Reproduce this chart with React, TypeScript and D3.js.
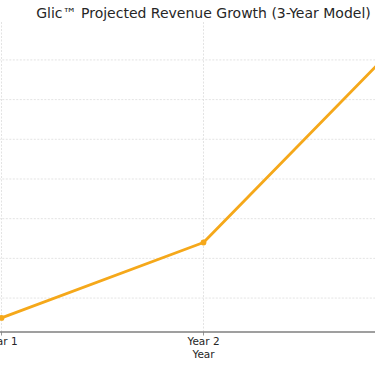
import React from "react";
import * as d3 from "d3";

const years: string[] = ["Year 1", "Year 2", "Year 3"];
const revenue: number[] = [1.25, 6.0, 19.0];
const yTicks: number[] = [2.5, 5, 7.5, 10, 12.5, 15, 17.5];
const title = "Glic™ Projected Revenue Growth (3-Year Model)";
const xLabel = "Year";

const W = 375;
const H = 366;
const plotLeft = -18.7;
const plotRight = 425.7;
const plotTop = 22;
const plotBottom = 332;
const FONT = "DejaVu Sans, sans-serif";

export default function App() {
  const idx = years.map((_, i) => i);
  const x = d3
    .scaleLinear()
    .domain([-0.1, years.length - 1 + 0.1])
    .range([plotLeft, plotRight]);
  const yMin = d3.min(revenue) as number;
  const yMax = d3.max(revenue) as number;
  const pad = (yMax - yMin) * 0.05;
  const y = d3
    .scaleLinear()
    .domain([yMin - pad, yMax + pad])
    .range([plotBottom, plotTop]);

  const line = d3
    .line<number>()
    .x((_, i) => x(i))
    .y((d) => y(d));

  return (
    <svg
      width={W}
      height={H}
      style={{ position: "absolute", left: 0, top: 0, background: "#fff" }}
    >
      {yTicks.map((t) => (
        <line
          key={"h" + t}
          x1={plotLeft}
          x2={plotRight}
          y1={y(t)}
          y2={y(t)}
          stroke="#dcdcdc"
          strokeWidth={0.8}
          strokeDasharray="2,1.5"
        />
      ))}
      {idx.map((i) => (
        <line
          key={"v" + i}
          x1={x(i)}
          x2={x(i)}
          y1={plotTop}
          y2={plotBottom}
          stroke="#dcdcdc"
          strokeWidth={0.8}
          strokeDasharray="2,1.5"
        />
      ))}
      <line
        x1={plotLeft}
        x2={plotRight}
        y1={plotBottom}
        y2={plotBottom}
        stroke="#7f7f7f"
        strokeWidth={1.5}
      />
      {idx.map((i) => (
        <g key={"t" + i}>
          <line
            x1={x(i)}
            x2={x(i)}
            y1={plotBottom}
            y2={plotBottom + 3.5}
            stroke="#7f7f7f"
            strokeWidth={0.8}
          />
          <text
            x={x(i)}
            y={plotBottom + 13.2}
            textAnchor="middle"
            fontFamily={FONT}
            fontSize={10.5}
            fill="#262626"
          >
            {years[i]}
          </text>
        </g>
      ))}
      <text
        x={(plotLeft + plotRight) / 2}
        y={plotBottom + 26}
        textAnchor="middle"
        fontFamily={FONT}
        fontSize={10.5}
        fill="#262626"
      >
        {xLabel}
      </text>
      <path
        d={line(revenue) || ""}
        fill="none"
        stroke="#f5a81a"
        strokeWidth={2.8}
        strokeLinejoin="round"
      />
      {revenue.map((v, i) => (
        <circle key={"c" + i} cx={x(i)} cy={y(v)} r={2.9} fill="#f5a81a" />
      ))}
      <text
        x={(plotLeft + plotRight) / 2}
        y={18}
        textAnchor="middle"
        fontFamily={FONT}
        fontSize={14}
        fill="#262626"
      >
        {title}
      </text>
    </svg>
  );
}
